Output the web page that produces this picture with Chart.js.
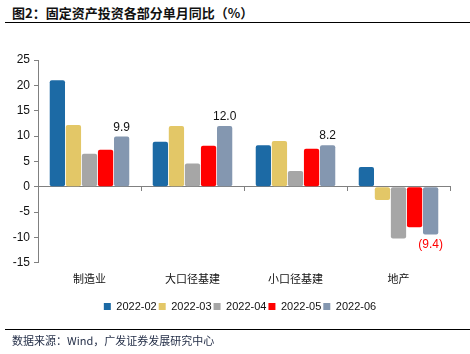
<!DOCTYPE html>
<html lang="zh">
<head>
<meta charset="UTF-8">
<script src="https://cdn.jsdelivr.net/npm/chart.js"></script>
<style>
  html, body { margin: 0; padding: 0; background: #fff; }
  #wrap { position: relative; width: 470px; height: 354px; overflow: hidden; }
  #title { position: absolute; left: 12px; top: 3px; font: bold 13px "Noto Sans CJK SC", sans-serif; color: #111; }
  .rule { position: absolute; left: 5px; width: 465px; height: 0; border-top: 1.5px solid #000; }
  #source { position: absolute; left: 12px; top: 332px; font: 11px "Noto Sans CJK SC", sans-serif; color: #1f2a44; }
  canvas { position: absolute; left: 0; top: 0; }
</style>
</head>
<body>
<div id="wrap">
  <div id="title">图2：固定资产投资各部分单月同比（%）</div>
  <div class="rule" style="top:22px"></div>
  <canvas id="c" width="470" height="354"></canvas>
  <div class="rule" style="top:329px"></div>
  <div id="source">数据来源：Wind，广发证券发展研究中心</div>
</div>
<script>
// categories and series
const categories = ['制造业', '大口径基建', '小口径基建', '地产'];
const months = ['2022-02', '2022-03', '2022-04', '2022-05', '2022-06'];
const s202202 = [21.0, 8.9, 8.2, 3.9];
const s202203 = [12.2, 12.0, 9.0, -2.6];
const s202204 = [6.5, 4.6, 3.1, -10.2];
const s202205 = [7.3, 8.1, 7.5, -8.0];
const s202206 = [9.9, 12.0, 8.2, -9.4];
const colors = ['#1C6AA5', '#E3C767', '#A6A6A6', '#FF0000', '#8497B0'];
const yMin = -15, yMax = 25, yStep = 5;

const series = [s202202, s202203, s202204, s202205, s202206];

// labels on last series
const labelPlugin = {
  id: 'barLabels',
  afterLayout(chart) {
    // legend sits a bit right of the canvas centre in the original
    if (chart.legend) { chart.legend.left += 15; chart.legend.right += 15; }
  },
  afterDatasetsDraw(chart) {
    const ctx = chart.ctx;
    const meta = chart.getDatasetMeta(4);
    ctx.save();
    ctx.font = '12px "Liberation Sans", Arial, sans-serif';
    ctx.textAlign = 'center';
    meta.data.forEach((bar, i) => {
      const v = s202206[i];
      if (v >= 0) {
        ctx.fillStyle = '#111';
        ctx.textBaseline = 'bottom';
        ctx.fillText(v.toFixed(1), bar.x, bar.y - 3);
      } else {
        ctx.fillStyle = '#FF0000';
        ctx.textBaseline = 'top';
        ctx.fillText('(' + Math.abs(v).toFixed(1) + ')', bar.x, bar.y + 4);
      }
    });
    ctx.restore();
  }
};

new Chart(document.getElementById('c'), {
  type: 'bar',
  data: {
    labels: categories,
    datasets: series.map((d, i) => ({
      label: months[i],
      data: d,
      backgroundColor: colors[i],
      borderRadius: 2,
      borderSkipped: false,
      categoryPercentage: 0.78,
      barPercentage: 0.95
    }))
  },
  options: {
    responsive: false,
    animation: false,
    layout: { padding: { left: 0, right: 20, top: 60, bottom: 32 } },
    plugins: {
      tooltip: { enabled: false },
      legend: {
        position: 'bottom',
        labels: {
          boxWidth: 7, boxHeight: 7, padding: 2,
          color: '#111',
          font: { size: 11, family: '"Liberation Sans", Arial, sans-serif' }
        }
      }
    },
    scales: {
      x: {
        afterFit(axis) { axis.height += 5; },
        grid: { display: false, drawTicks: false },
        border: { display: false },
        ticks: { padding: 9, color: '#111', font: { size: 11, family: '"Noto Sans CJK SC", sans-serif' } }
      },
      x2: {
        type: 'category',
        labels: categories,
        offset: true,
        position: { y: 0 },
        grid: { offset: true, drawOnChartArea: false, tickLength: 4, color: '#808080' },
        border: { color: '#808080', width: 1 },
        ticks: { display: false }
      },
      y: {
        min: yMin, max: yMax,
        afterFit(axis) { axis.width = 38; },
        grid: { drawOnChartArea: false, tickLength: 4, color: '#808080' },
        border: { color: '#808080' },
        ticks: { stepSize: yStep, padding: 4, color: '#111', font: { size: 12, family: '"Liberation Sans", Arial, sans-serif' } }
      }
    }
  },
  plugins: [labelPlugin]
});
</script>
</body>
</html>
